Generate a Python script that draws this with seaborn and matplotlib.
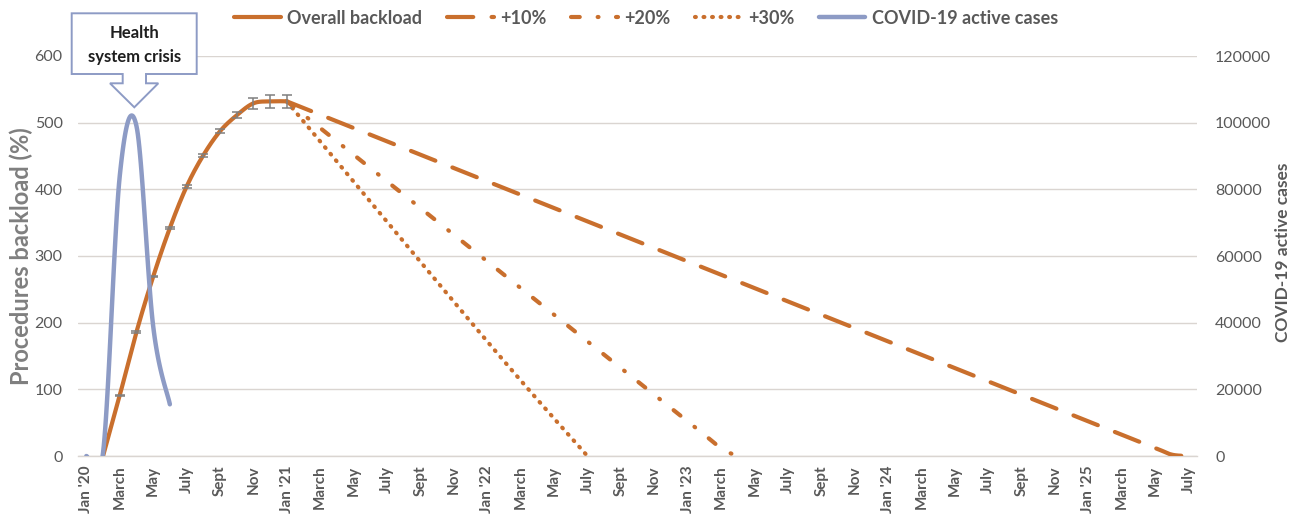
import numpy as np
import pandas as pd
import matplotlib
matplotlib.use("Agg")
import matplotlib.pyplot as plt
import seaborn as sns
from matplotlib.patches import Polygon
from matplotlib.lines import Line2D

# ---------------- data ----------------
first_month = "2020-01"
last_month = "2025-07"
tick_labels = ["Jan '20", "March", "May", "July", "Sept", "Nov",
               "Jan '21", "March", "May", "July", "Sept", "Nov",
               "Jan '22", "March", "May", "July", "Sept", "Nov",
               "Jan '23", "March", "May", "July", "Sept", "Nov",
               "Jan '24", "March", "May", "July", "Sept", "Nov",
               "Jan '25", "March", "May", "July"]

overall_months = ["2020-02", "2020-03", "2020-04", "2020-05", "2020-06", "2020-07",
                  "2020-08", "2020-09", "2020-10", "2020-11", "2020-12", "2021-01"]
overall_values = [0, 91, 186, 269, 342, 404, 451, 487, 511, 529, 532, 532]
overall_errors = [0, 0.6, 0.8, 1.0, 1.5, 2.0, 2.5, 3.0, 4.5, 8.0, 10.0, 10.0]

p10_months = ["2021-01", "2022-01", "2023-01", "2024-01", "2025-01", "2025-05", "2025-06", "2025-07"]
p10_values = [532, 412, 292, 172, 52, 12, 2, 0]

p20_months = ["2021-01", "2022-01", "2023-01", "2023-03", "2023-04"]
p20_values = [532, 292, 52, 12, 0]

p30_months = ["2021-01", "2022-01", "2022-07"]
p30_values = [532, 172, 0]

covid_months = ["2020-01", "2020-02", "2020-03", "2020-04", "2020-05", "2020-06"]
covid_values = [0, 1000, 84000, 99000, 39000, 15500]

series_names = ["Overall backload", "+10%", "+20%", "+30%", "COVID-19 active cases"]

# ---------------- helpers ----------------
base = pd.Period(first_month, freq="M")
n_months = (pd.Period(last_month, freq="M") - base).n + 1


def month_index(months):
    return np.array([(pd.Period(m, freq="M") - base).n for m in months], dtype=float)


def smooth(x, y, n=24):
    """Excel-like smoothed line (Bezier through points, Catmull-Rom tangents)."""
    P = np.column_stack([x, y]).astype(float)
    if len(P) < 3:
        return P[:, 0], P[:, 1]
    out = []
    t = np.linspace(0, 1, n)[:, None]
    for i in range(len(P) - 1):
        p0 = P[i - 1] if i > 0 else P[i]
        p1, p2 = P[i], P[i + 1]
        p3 = P[i + 2] if i + 2 < len(P) else P[i + 1]
        c1 = p1 + (p2 - p0) / 6.0
        c2 = p2 - (p3 - p1) / 6.0
        seg = (1 - t) ** 3 * p1 + 3 * (1 - t) ** 2 * t * c1 + 3 * (1 - t) * t ** 2 * c2 + t ** 3 * p2
        out.append(seg if i == 0 else seg[1:])
    S = np.vstack(out)
    return S[:, 0], S[:, 1]


# ---------------- style ----------------
sns.set_theme(style="white")
plt.rcParams["font.family"] = ["Lato", "DejaVu Sans"]

ORANGE = "#C96F2D"
BLUE = "#8D9BC5"
GRID = "#DAD5D1"
TXT = "#595959"

W, H = 1298, 514
fig = plt.figure(figsize=(W / 100, H / 100), dpi=100)
ax = fig.add_axes([78 / W, 1 - 456 / H, (1197 - 78) / W, 400 / H])
ax2 = ax.twinx()

LW = 3.0
styles = {
    "Overall backload": dict(linestyle="-"),
    "+10%": dict(linestyle=(0, (6.3, 4.4))),
    "+20%": dict(linestyle=(0, (2.1, 4.3, 0.2, 4.2))),
    "+30%": dict(linestyle=(0, (0.2, 1.85))),
}

# orange series (left axis)
for name, months, vals in [("+30%", p30_months, p30_values),
                           ("+20%", p20_months, p20_values),
                           ("+10%", p10_months, p10_values),
                           ("Overall backload", overall_months, overall_values)]:
    sx, sy = smooth(month_index(months), vals)
    sns.lineplot(x=sx, y=sy, ax=ax, estimator=None, sort=False, color=ORANGE,
                 linewidth=LW, dash_capstyle="round", solid_capstyle="round",
                 zorder=3, **styles[name])

err_x = month_index(overall_months)
err_y = np.array(overall_values, dtype=float)
err_e = np.array(overall_errors, dtype=float)
keep = err_e > 0
ax.errorbar(err_x[keep], err_y[keep], yerr=err_e[keep],
            fmt="none", ecolor="#7F7F7F", elinewidth=1.1, capsize=3.6,
            capthick=1.1, zorder=4)

# covid (right axis)
cx, cy = smooth(month_index(covid_months), covid_values)
sns.lineplot(x=cx, y=cy, ax=ax2, estimator=None, sort=False, color=BLUE,
             linewidth=3.2, solid_capstyle="round", zorder=3)

# ---------------- axes ----------------
ax.set_xlim(-0.5, n_months - 0.5)
ax.set_ylim(0, 600)
ax2.set_ylim(0, 120000)
ax.set_yticks(np.arange(0, 601, 100))
ax2.set_yticks(np.arange(0, 120001, 20000))
ax2.set_yticklabels([str(v) for v in range(0, 120001, 20000)])
ax.set_xticks(np.arange(0, n_months, 2))
ax.set_xticklabels(tick_labels, rotation=90, fontweight="bold", fontsize=11, color=TXT)
ax.tick_params(axis="x", length=0, pad=7)
ax.tick_params(axis="y", length=0, pad=11, labelsize=11.5, labelcolor=TXT)
ax2.tick_params(axis="y", length=0, pad=13, labelsize=11.5, labelcolor=TXT)

ax.yaxis.grid(True, color=GRID, linewidth=1.0)
ax.set_axisbelow(True)
for s in ["top", "left", "right"]:
    ax.spines[s].set_visible(False)
ax.spines["bottom"].set_color(GRID)
ax.spines["bottom"].set_linewidth(1.0)
for s in ax2.spines.values():
    s.set_visible(False)

ax.set_xlabel("")
ax.set_ylabel("Procedures backload (%)", fontsize=17, fontweight="bold",
              color="#7F7F7F", va="center")
ax.yaxis.set_label_coords(-0.0503, 0.5)
ax2.set_ylabel("COVID-19 active cases", fontsize=12.5, fontweight="bold",
               color=TXT, rotation=90, va="center")
ax2.yaxis.set_label_coords(1.0769, 0.509)

# ---------------- legend ----------------
handles = [Line2D([], [], color=ORANGE, lw=LW, dash_capstyle="round", **styles[n])
           for n in series_names[:4]]
handles.append(Line2D([], [], color=BLUE, lw=3.2))
leg = fig.legend(handles, series_names, loc="center", ncol=5,
                 bbox_to_anchor=(646 / W, 1 - 18 / H), frameon=False,
                 handlelength=2.6, handletextpad=0.35, columnspacing=1.35,
                 prop=dict(size=13, weight="bold"))
for t in leg.get_texts():
    t.set_color(TXT)

# ---------------- callout ----------------
pts_px = [(71.7, 13.3), (196.7, 13.3), (196.7, 74), (146, 74), (146, 83.3),
          (158.3, 83.3), (134.3, 107.3), (110, 83.3), (122.7, 83.3), (122.7, 74),
          (71.7, 74)]
poly = Polygon([(x / W, 1 - y / H) for x, y in pts_px], closed=True,
               transform=fig.transFigure, facecolor="white", edgecolor=BLUE,
               linewidth=1.4, zorder=10)
fig.add_artist(poly)
fig.text(134.3 / W, 1 - 33 / H, "Health", ha="center", va="center",
         fontsize=12, fontweight="bold", color="#1E1E1E", zorder=11)
fig.text(134.3 / W, 1 - 57 / H, "system crisis", ha="center", va="center",
         fontsize=12, fontweight="bold", color="#1E1E1E", zorder=11)

fig.savefig("out.png", dpi=100)
